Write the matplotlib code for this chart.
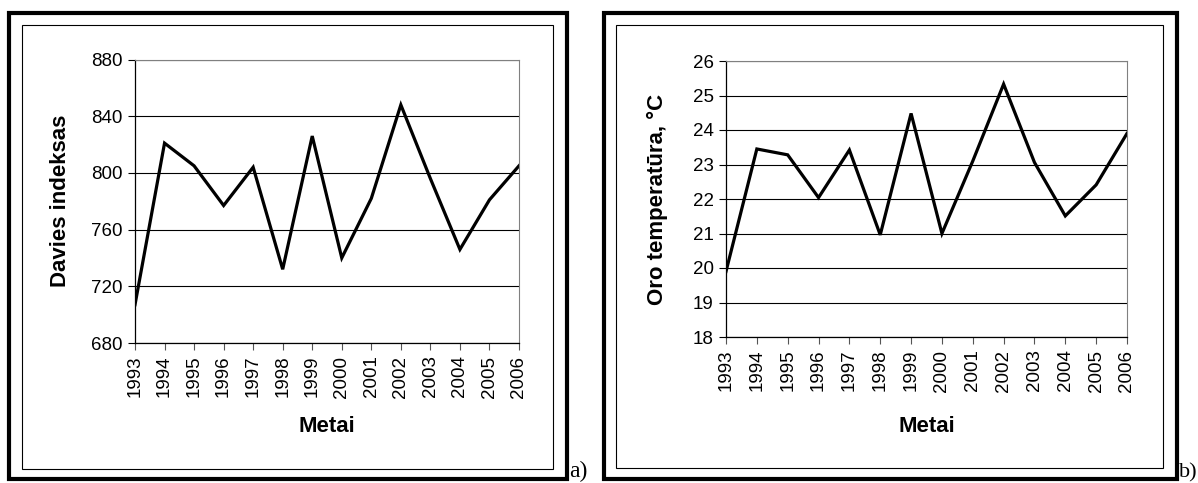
import matplotlib
matplotlib.use("Agg")
import matplotlib.pyplot as plt
from matplotlib.patches import Rectangle

W, H = 1198, 483

years = ['1993', '1994', '1995', '1996', '1997', '1998', '1999',
         '2000', '2001', '2002', '2003', '2004', '2005', '2006']
davies = [707, 821, 805, 777, 804, 732, 826, 740, 782, 848, 796, 746, 781, 805]
temperature = [19.9, 23.45, 23.28, 22.04, 23.42, 20.96, 24.48,
               21.0, 23.1, 25.33, 23.06, 21.51, 22.41, 23.9]

plt.rcParams['font.family'] = ['Liberation Sans', 'DejaVu Sans']

fig = plt.figure(figsize=(W / 100, H / 100), dpi=100)


def px_rect(x0, y0, x1, y1, lw):
    # rectangle in pixel coords (origin top-left)
    r = Rectangle((x0 / W, 1 - y1 / H), (x1 - x0) / W, (y1 - y0) / H,
                  transform=fig.transFigure, fill=False, edgecolor='black',
                  linewidth=lw, zorder=5)
    fig.patches.append(r)


def px_axes(x0, y0, x1, y1):
    return fig.add_axes([x0 / W, 1 - y1 / H, (x1 - x0) / W, (y1 - y0) / H])


def style_axes(ax, values, ylim, yticks, ylabel):
    x = range(len(years))
    ax.plot(x, values, color='black', linewidth=2.3, solid_joinstyle='miter')
    ax.set_xlim(0, len(years) - 1)
    ax.set_ylim(*ylim)
    ax.set_yticks(yticks)
    ax.set_xticks(list(x))
    ax.set_xticklabels(years, rotation=90, fontsize=13.5)
    ax.tick_params(axis='y', labelsize=13.5, length=5, width=0.8, direction='out', pad=4)
    ax.tick_params(axis='x', length=5, width=0.8, direction='out', pad=4, color='#555555')
    ax.grid(axis='y', color='black', linewidth=0.8)
    ax.set_axisbelow(True)
    for s in ['top', 'right']:
        ax.spines[s].set_color('#808080')
        ax.spines[s].set_linewidth(0.8)
    for s in ['left', 'bottom']:
        ax.spines[s].set_color('black')
        ax.spines[s].set_linewidth(0.9)
    ax.set_ylabel(ylabel, fontsize=16, fontweight='bold', va='center')


# panel a
px_rect(9, 13, 567, 479, 3.0)
px_rect(22, 25, 553, 469, 0.8)
ax1 = px_axes(135, 59.5, 519, 343)
style_axes(ax1, davies, (680, 880), [680, 720, 760, 800, 840, 880], 'Davies indeksas')
ax1.yaxis.set_label_coords((60 - 135) / 384, 0.5)
fig.text(327 / W, 1 - 427 / H, 'Metai', ha='center', va='center',
         fontsize=16, fontweight='bold')
fig.text(569 / W, 1 - 477 / H, 'a)', ha='left', va='baseline',
         fontsize=17, family='Liberation Serif')

# panel b
px_rect(604, 13, 1177, 479, 3.0)
px_rect(616, 25, 1163, 468, 0.8)
ax2 = px_axes(726, 61, 1127, 337)
style_axes(ax2, temperature, (18, 26), list(range(18, 27)), 'Oro temperatūra, °C')
ax2.yaxis.set_label_coords((657 - 726) / 401, 0.5)
fig.text(926.5 / W, 1 - 427 / H, 'Metai', ha='center', va='center',
         fontsize=16, fontweight='bold')
fig.text(1179 / W, 1 - 477 / H, 'b)', ha='left', va='baseline',
         fontsize=16, family='Liberation Serif')

fig.savefig('out.png', dpi=100)
